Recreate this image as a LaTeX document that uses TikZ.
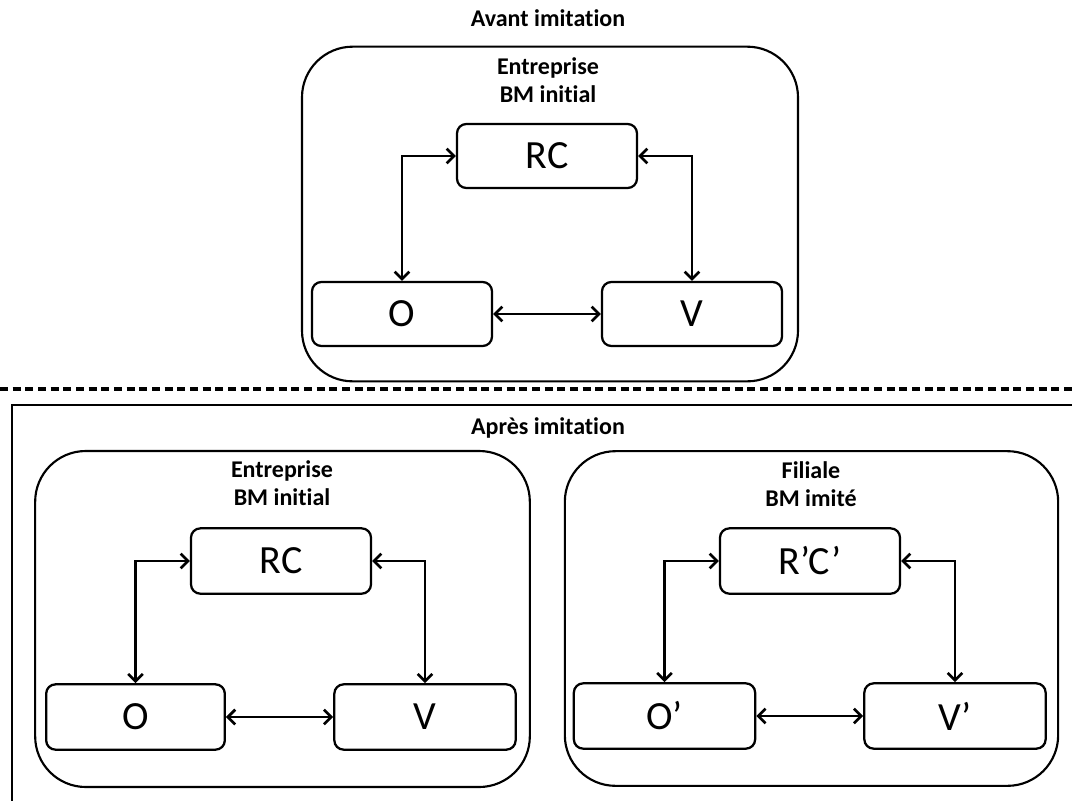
\documentclass[tikz,border=0pt]{standalone}
\usepackage{fontspec}
\setmainfont{Carlito}[Ligatures=NoCommon]
\usetikzlibrary{arrows.meta}
\tikzset{
  outerbox/.style={draw, line width=1.6pt, rounded corners=38pt, inner sep=0pt},
  elembox/.style={draw, line width=1.7pt, rounded corners=7pt, inner sep=0pt,
    minimum width=135pt, minimum height=48pt, font=\fontsize{30}{36}\selectfont},
  titletext/.style={font=\bfseries\fontsize{18}{21}\selectfont, align=center, inner sep=0pt},
  biarrow/.style={line width=2pt, {Straight Barb[length=5.5pt,width=11pt]}-{Straight Barb[length=5.5pt,width=11pt]}},
  frameline/.style={line width=1.8pt},
  sepline/.style={line width=2.4pt, dash pattern=on 6pt off 3.5pt}
}
\begin{document}
\begin{tikzpicture}[x=0.75pt,y=-0.75pt]
\useasboundingbox (0,0) rectangle (1072,801);
\fill[white] (0,0) rectangle (1072,801);

% ---------- Avant imitation ----------
\node[titletext] (avant) at (548,18) {Avant imitation};
\node[outerbox, minimum width=372pt, minimum height=251pt] (outerA) at (550,214) {};
\node[titletext] (titleA) at (548,80) {Entreprise\\BM initial};
\node[elembox] (RCa) at (547,156) {RC};
\node[elembox] (Oa) at (402,314) {O};
\node[elembox] (Va) at (692,314) {V};
\draw[biarrow] (Oa.north) |- (RCa.west);
\draw[biarrow] (Va.north) |- (RCa.east);
\draw[biarrow] (Oa.east) -- (Va.west);

% ---------- separator and frame ----------
\coordinate (sepL) at (0,389);
\coordinate (sepR) at (1072,389);
\draw[sepline] (sepL) -- (sepR);
\coordinate (frTR) at (1072,405);
\coordinate (frTL) at (12,405);
\coordinate (frBL) at (12,801);
\draw[frameline] (frTR) -- (frTL) -- (frBL);

\node[titletext] (apres) at (548,428) {Après imitation};

% ---------- Entreprise (after) ----------
\node[outerbox, minimum width=371pt, minimum height=252pt] (outerB) at (282.5,619) {};
\node[titletext] (titleB) at (282,483) {Entreprise\\BM initial};
\node[elembox, minimum height=49pt] (RCb) at (281,561) {RC};
\node[elembox, minimum width=134pt, minimum height=49pt] (Ob) at (135.5,717) {O};
\node[elembox, minimum width=136pt, minimum height=49pt] (Vb) at (425,717) {V};
\draw[biarrow] (Ob.north) |- (RCb.west);
\draw[biarrow] (Vb.north) |- (RCb.east);
\draw[biarrow] (Ob.east) -- (Vb.west);

% ---------- Filiale ----------
\node[outerbox, minimum width=370pt, minimum height=251pt] (outerC) at (811.5,618.5) {};
\node[titletext] (titleC) at (811,484) {Filiale\\BM imité};
\node[elembox, minimum height=49pt] (RCc) at (810,561) {R’C’};
\node[elembox, minimum width=136pt, minimum height=49pt] (Oc) at (664.5,716) {O’};
\node[elembox, minimum width=136pt, minimum height=49pt] (Vc) at (955,716) {V’};
\draw[biarrow] (Oc.north) |- (RCc.west);
\draw[biarrow] (Vc.north) |- (RCc.east);
\draw[biarrow] (Oc.east) -- (Vc.west);
\end{tikzpicture}
\end{document}
